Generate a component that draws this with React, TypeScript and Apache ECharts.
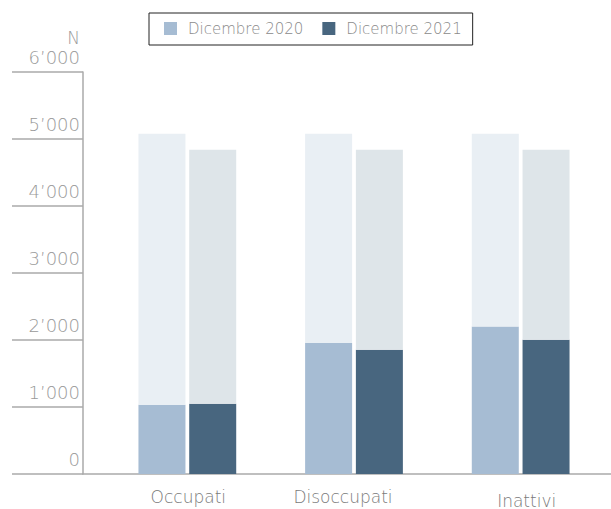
import React, { useEffect, useRef } from "react";
import * as echarts from "echarts";

const categories = ["Occupati", "Disoccupati", "Inattivi"];
const seriesNames = ["Dicembre 2020", "Dicembre 2021"];
const values2020 = [1035, 1960, 2200];
const values2021 = [1050, 1855, 2005];
const totals2020 = [5080, 5080, 5080];
const totals2021 = [4840, 4840, 4840];
const yTicks = [0, 1000, 2000, 3000, 4000, 5000, 6000];

const FONT = "'DejaVu Sans', 'Open Sans', sans-serif";
const WEIGHT = 200;

function fmt(v: number): string {
  const s = String(Math.round(v));
  return s.replace(/\B(?=(\d{3})+(?!\d))/g, "\u2019");
}

export default function App() {
  const ref = useRef<HTMLDivElement>(null);
  useEffect(() => {
    if (!ref.current) return;
    const chart = echarts.init(ref.current, null, { renderer: "svg" });
    const axisGray = "#aaaaaa";
    const rest2020 = totals2020.map((t, i) => t - values2020[i]);
    const rest2021 = totals2021.map((t, i) => t - values2021[i]);
    const labelPads = [
      [0, 0, 0, 2],
      [0, 22, 0, 0],
      [4, 0, 0, 12],
    ];
    chart.setOption({
      animation: false,
      textStyle: { fontFamily: FONT, fontWeight: WEIGHT },
      legend: {
        data: seriesNames,
        left: 149,
        top: 13,
        orient: "horizontal",
        selectedMode: false,
        borderColor: "#222",
        borderWidth: 1,
        padding: [8, 11, 9, 15],
        itemWidth: 13,
        itemHeight: 13,
        itemGap: 19,
        icon: "rect",
        textStyle: { fontSize: 15, color: "#8a8a8a", fontFamily: FONT, fontWeight: WEIGHT, padding: [0, 0, 0, 6] },
      },
      grid: [
        { left: 83, right: 0, top: 72, bottom: 35, containLabel: false, outerBoundsMode: "none" },
        { left: 104, right: 7, top: 72, bottom: 35, containLabel: false, outerBoundsMode: "none" },
      ],
      xAxis: [
        {
          type: "category",
          gridIndex: 0,
          data: [""],
          axisLine: { show: true, lineStyle: { color: axisGray, width: 1.5 } },
          axisTick: { show: false },
          axisLabel: { show: false },
        },
        {
          type: "category",
          gridIndex: 1,
          data: categories.map((c, i) => ({ value: c, textStyle: { padding: labelPads[i] } })),
          axisLine: { show: false },
          axisTick: { show: false },
          axisLabel: { margin: 14, fontSize: 17, color: "#7a7a7a", fontFamily: FONT, fontWeight: WEIGHT },
        },
      ],
      yAxis: [
        {
          type: "value",
          gridIndex: 0,
          min: yTicks[0],
          max: yTicks[yTicks.length - 1],
          interval: 1000,
          name: "N",
          nameLocation: "end",
          nameGap: 26,
          nameTextStyle: { fontSize: 17, color: "#999", align: "right", padding: [0, 3, 0, 0], fontFamily: FONT, fontWeight: WEIGHT },
          axisLine: { show: true, lineStyle: { color: axisGray, width: 1.5 } },
          axisTick: { show: true, inside: false, length: 71, lineStyle: { color: axisGray, width: 1.5 } },
          splitLine: { show: false },
          axisLabel: {
            formatter: (v: number) => fmt(v),
            margin: 3,
            fontSize: 18,
            color: "#999",
            verticalAlign: "bottom",
            padding: [0, 0, 6, 0],
            fontFamily: FONT,
            fontWeight: WEIGHT,
          },
        },
        {
          type: "value",
          gridIndex: 1,
          min: yTicks[0],
          max: yTicks[yTicks.length - 1],
          interval: 1000,
          show: false,
        },
      ],
      series: [
        {
          name: seriesNames[0],
          type: "bar",
          xAxisIndex: 1,
          yAxisIndex: 1,
          stack: "s2020",
          data: values2020,
          barWidth: 47,
          barGap: "8%",
          itemStyle: { color: "#a6bcd3" },
        },
        {
          name: "bg2020",
          type: "bar",
          xAxisIndex: 1,
          yAxisIndex: 1,
          stack: "s2020",
          data: rest2020,
          barWidth: 47,
          barGap: "8%",
          itemStyle: { color: "#e9eff4" },
        },
        {
          name: seriesNames[1],
          type: "bar",
          xAxisIndex: 1,
          yAxisIndex: 1,
          stack: "s2021",
          data: values2021,
          barWidth: 47,
          barGap: "8%",
          itemStyle: { color: "#48667f" },
        },
        {
          name: "bg2021",
          type: "bar",
          xAxisIndex: 1,
          yAxisIndex: 1,
          stack: "s2021",
          data: rest2021,
          barWidth: 47,
          barGap: "8%",
          itemStyle: { color: "#dee5e9" },
        },
      ],
    });
    return () => chart.dispose();
  }, []);
  return (
    <div
      ref={ref}
      style={{ position: "fixed", left: 0, top: 0, width: 611, height: 509, background: "#fff" }}
    />
  );
}
